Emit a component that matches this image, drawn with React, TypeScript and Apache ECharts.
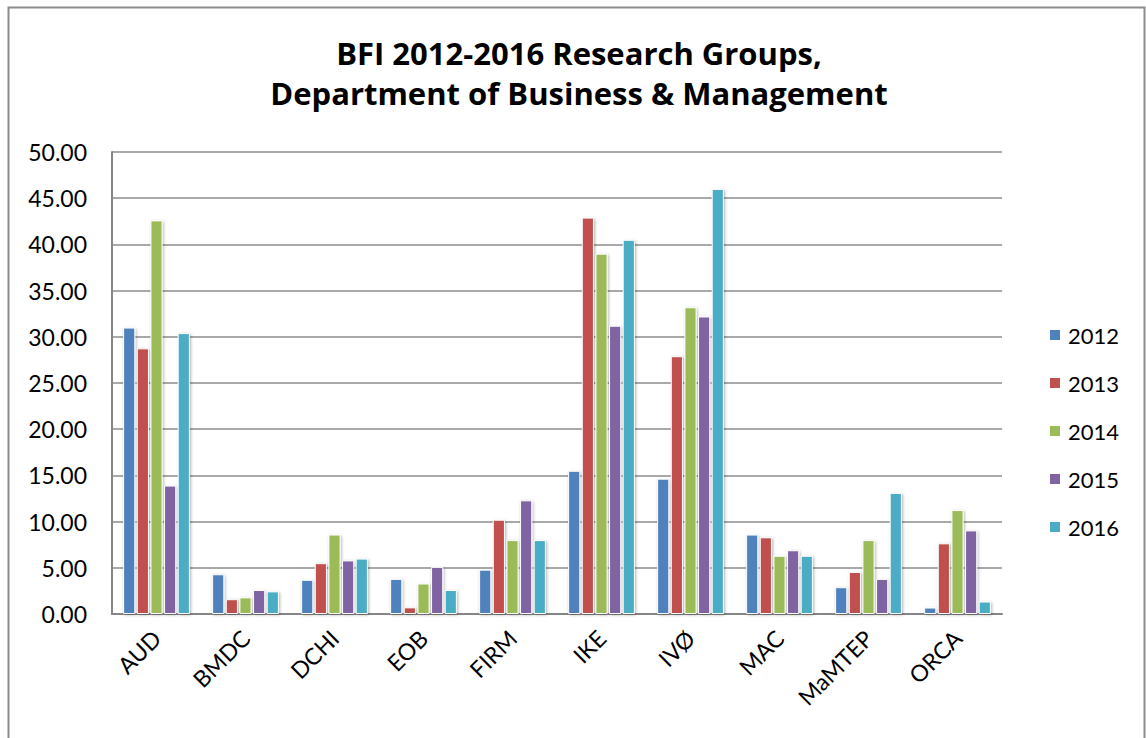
import React, { useEffect, useRef } from "react";
import * as echarts from "echarts";

const categories = ["AUD", "BMDC", "DCHI", "EOB", "FIRM", "IKE", "IVØ", "MAC", "MaMTEP", "ORCA"];
const years = ["2012", "2013", "2014", "2015", "2016"];
const v2012 = [31.0, 4.3, 3.7, 3.8, 4.8, 15.5, 14.65, 8.6, 2.9, 0.7];
const v2013 = [28.75, 1.6, 5.5, 0.72, 10.2, 42.9, 27.9, 8.3, 4.55, 7.65];
const v2014 = [42.6, 1.8, 8.6, 3.3, 8.0, 39.0, 33.2, 6.3, 8.0, 11.25];
const v2015 = [13.9, 2.6, 5.8, 5.1, 12.3, 31.2, 32.2, 6.9, 3.8, 9.05];
const v2016 = [30.4, 2.45, 6.0, 2.6, 8.0, 40.5, 46.0, 6.3, 13.1, 1.35];
const seriesValues = [v2012, v2013, v2014, v2015, v2016];
const colors = ["#4F81BD", "#C0504D", "#9BBB59", "#8064A2", "#4BACC6"];
const titleLines = ["BFI 2012-2016 Research Groups,", "Department of Business & Management"];

const FONT = "Lato, 'Open Sans', sans-serif";
const TITLE_FONT = "'Open Sans', Lato, sans-serif";

export default function App() {
  const ref = useRef<HTMLDivElement>(null);
  useEffect(() => {
    if (!ref.current) return;
    const chart = echarts.init(ref.current, null, { renderer: "svg" });
    chart.setOption({
      animation: false,
      backgroundColor: "#ffffff",
      textStyle: { fontFamily: FONT },
      title: {
        text: titleLines.join("\n"),
        left: 579,
        textAlign: "center",
        top: 33,
        padding: 0,
        textStyle: { fontSize: 31, fontWeight: "bold", color: "#000", lineHeight: 40, fontFamily: TITLE_FONT },
      },
      graphic: [
        {
          type: "rect",
          shape: { x: 8.5, y: 7.5, width: 1136, height: 800 },
          style: { fill: "none", stroke: "#8c8c8c", lineWidth: 2 },
          silent: true,
        },
      ],
      legend: {
        orient: "vertical",
        left: 1043,
        top: 319,
        itemWidth: 12,
        itemHeight: 12,
        itemGap: 26,
        icon: "rect",
        data: years,
        textStyle: { fontSize: 22, color: "#000", fontFamily: FONT, padding: [0, 0, 0, 2] },
      },
      grid: { left: 112, right: 144, top: 152, bottom: 124, containLabel: false },
      xAxis: {
        type: "category",
        data: categories,
        axisLine: { show: true, lineStyle: { color: "#868686", width: 2 } },
        axisTick: { show: false },
        axisLabel: { rotate: 45, fontSize: 23, color: "#000", margin: 20, interval: 0, fontFamily: FONT },
      },
      yAxis: {
        type: "value",
        min: 0,
        max: 50,
        interval: 5,
        axisLine: { show: true, lineStyle: { color: "#868686", width: 2 } },
        axisTick: { show: false },
        axisLabel: {
          fontSize: 23,
          color: "#000",
          margin: 25,
          fontFamily: FONT,
          formatter: (v: number) => v.toFixed(2),
        },
        splitLine: { show: true, lineStyle: { color: "#8c8c8c", width: 1.5 } },
      },
      series: years.map((y, i) => ({
        name: y,
        type: "bar",
        data: seriesValues[i],
        barGap: "12%",
        barCategoryGap: "25%",
        itemStyle: {
          color: colors[i],
          borderColor: "#ffffff",
          borderWidth: 1,
          shadowBlur: 3,
          shadowColor: "rgba(0,0,0,0.3)",
          shadowOffsetX: 1,
          shadowOffsetY: 1,
        },
      })),
    });
    return () => chart.dispose();
  }, []);
  return (
    <div
      ref={ref}
      style={{ position: "absolute", left: 0, top: 0, width: 1146, height: 738 }}
    />
  );
}
